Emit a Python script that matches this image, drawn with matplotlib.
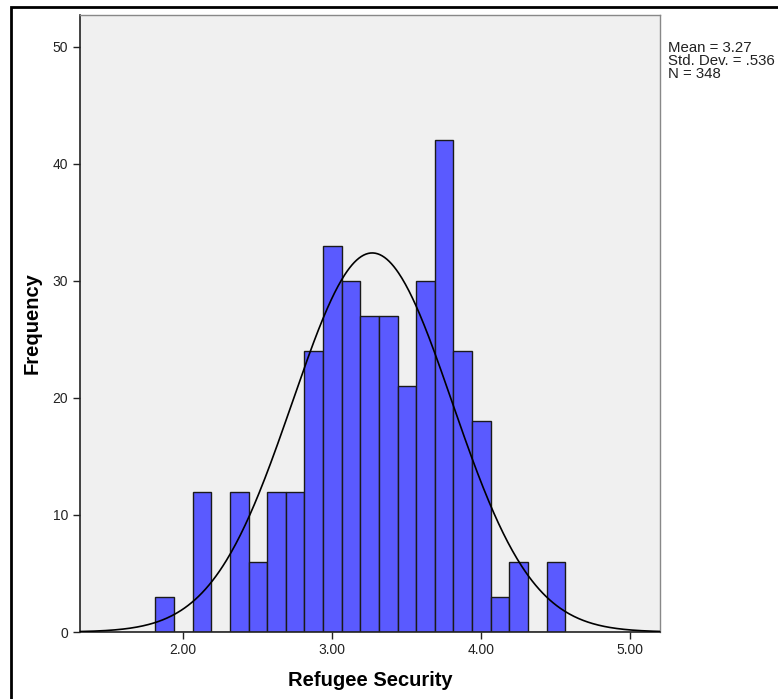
import numpy as np
import matplotlib
matplotlib.use("Agg")
import matplotlib.pyplot as plt
from matplotlib.patches import Rectangle

plt.rcParams['font.family'] = ['Liberation Sans', 'DejaVu Sans']

# Data
bin_start = 1.815
bin_width = 0.125
counts = [3, 0, 12, 0, 12, 6, 12, 12, 24, 33, 30, 27, 27, 21, 30, 42, 24, 18, 3, 6, 0, 6]
mean_val = 3.27
sd_val = 0.536
n_val = 348
x_ticks = [2.0, 3.0, 4.0, 5.0]
x_tick_labels = ["2.00", "3.00", "4.00", "5.00"]
y_ticks = [0, 10, 20, 30, 40, 50]

W, H = 778, 699
fig = plt.figure(figsize=(W / 100, H / 100), dpi=100)
ax = fig.add_axes([80 / W, 1 - 632 / H, (660 - 80) / W, (632 - 15) / H])
ax.set_facecolor('#F0F0F0')

edges = bin_start + bin_width * np.arange(len(counts) + 1)
ax.bar(edges[:-1], counts, width=bin_width, align='edge',
       color='#5A5AFF', edgecolor='#1a1a1a', linewidth=1.0, zorder=2)

xlim = (1.309, 5.201)
xs = np.linspace(xlim[0], xlim[1], 500)
ys = n_val * bin_width / (sd_val * np.sqrt(2 * np.pi)) * np.exp(-0.5 * ((xs - mean_val) / sd_val) ** 2)
ax.plot(xs, ys, color='black', linewidth=1.2, zorder=3)

ax.set_xlim(*xlim)
ax.set_ylim(0, 52.7)
ax.set_xticks(x_ticks)
ax.set_xticklabels(x_tick_labels)
ax.set_yticks(y_ticks)
ax.tick_params(axis='both', direction='out', length=5, width=1, colors='#222222',
               labelsize=10, labelcolor='#222222')
ax.tick_params(axis='x', pad=3)

for s in ['top', 'right']:
    ax.spines[s].set_color('#888888')
    ax.spines[s].set_linewidth(1)
for s in ['left', 'bottom']:
    ax.spines[s].set_color('#222222')
    ax.spines[s].set_linewidth(1.2)

ax.set_xlabel('Refugee Security', fontsize=14.5, fontweight='bold', labelpad=10)
ax.set_ylabel('Frequency', fontsize=14.5, fontweight='bold', labelpad=8)

fig.text(668 / W, 1 - 48 / H, 'Mean = 3.27', fontsize=10.8, va='center', ha='left', color='#222222')
fig.text(668 / W, 1 - 61 / H, 'Std. Dev. = .536', fontsize=10.8, va='center', ha='left', color='#222222')
fig.text(668 / W, 1 - 74 / H, 'N = 348', fontsize=10.8, va='center', ha='left', color='#222222')

# outer frame
fig.patches.append(Rectangle((11 / W, -0.05), 1.2, 1 - 7 / H + 0.05, transform=fig.transFigure,
                             fill=False, edgecolor='black', linewidth=2))

fig.savefig('out.png', dpi=100)
